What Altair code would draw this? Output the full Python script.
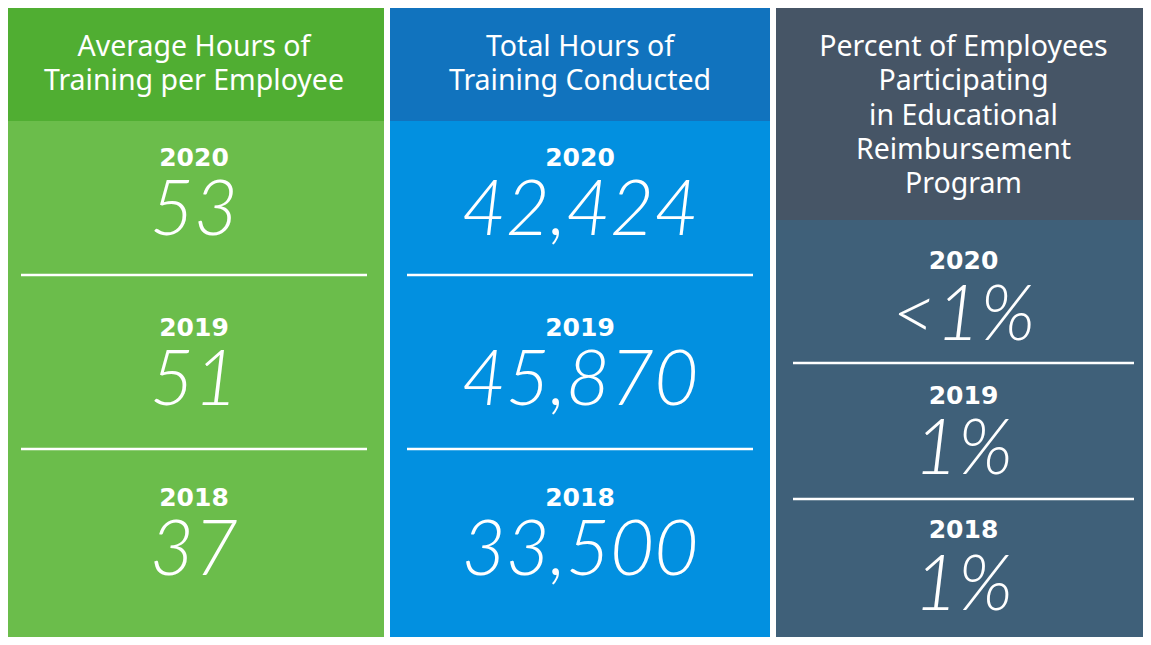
import altair as alt
import pandas as pd

# ---- content ----
titles = [
    "Average Hours of\nTraining per Employee",
    "Total Hours of\nTraining Conducted",
    "Percent of Employees\nParticipating\nin Educational\nReimbursement\nProgram",
]
years = ["2020", "2019", "2018"]
avg_hours = ["53", "51", "37"]
total_hours = ["42,424", "45,870", "33,500"]
pct_reimb = ["<1%", "1%", "1%"]

header_colors = ["#50AE32", "#1173BE", "#465566"]
body_colors = ["#6BBD4B", "#0290E0", "#3F6079"]

# ---- layout (reference image pixel coordinates) ----
W, H = 1151, 645
panel_x = [(4, 384), (390, 770), (776, 1151)]
header_bottom = [121, 121, 220]
header_first_line = 47
year_y = [[158, 328, 498], [158, 328, 498], [261, 396, 530]]
value_y = [[212, 382, 552], [212, 382, 552], [317, 451, 587]]
divider_y = [[275, 449], [275, 449], [363, 499]]
divider_pad = 17

values = [avg_hours, total_hours, pct_reimb]

rects, rules, heads, yrs, vals = [], [], [], [], []
for i in range(3):
    x0, x1 = panel_x[i]
    cx = (x0 + x1) / 2
    rects.append(dict(x=x0, x2=x1, y=8, y2=header_bottom[i], c=header_colors[i]))
    rects.append(dict(x=x0, x2=x1, y=header_bottom[i], y2=H, c=body_colors[i]))
    heads.append(dict(x=cx, y=header_first_line, t=titles[i]))
    for j in range(3):
        yrs.append(dict(x=cx, y=year_y[i][j], t=years[j]))
        vals.append(dict(x=cx, y=value_y[i][j], t=values[i][j]))
    for dy in divider_y[i]:
        rules.append(dict(x=x0 + divider_pad, x2=x1 - divider_pad, y=dy))

# page has an 8px margin on every side: chart pixel = image pixel - 8
CW, CH = W - 16, H - 16
xs = alt.Scale(domain=[8, 8 + CW], range=[0, CW], nice=False, zero=False)
ys = alt.Scale(domain=[8, 8 + CH], range=[0, CH], nice=False, zero=False)

def X(f="x"):
    return alt.X(f"{f}:Q", scale=xs, axis=None)

def Y(f="y"):
    return alt.Y(f"{f}:Q", scale=ys, axis=None)

rect_layer = alt.Chart(pd.DataFrame(rects)).mark_rect().encode(
    x=X(), x2="x2:Q", y=Y(), y2="y2:Q",
    color=alt.Color("c:N", scale=None),
)

rule_layer = alt.Chart(pd.DataFrame(rules)).mark_rule(
    color="white", strokeWidth=2.5
).encode(x=X(), x2="x2:Q", y=Y())

head_layer = alt.Chart(pd.DataFrame(heads)).mark_text(
    color="white", font="Noto Sans", fontSize=28.5, lineBreak="\n",
    lineHeight=34.3, baseline="middle", align="center",
).encode(x=X(), y=Y(), text="t:N")

year_layer = alt.Chart(pd.DataFrame(yrs)).mark_text(
    color="white", font="DejaVu Sans", fontSize=25, fontWeight="bold",
    baseline="middle", align="center",
).encode(x=X(), y=Y(), text="t:N")

val_layer = alt.Chart(pd.DataFrame(vals)).mark_text(
    color="white", font="Lato", fontSize=76, fontWeight=300,
    fontStyle="italic", baseline="middle", align="center",
).encode(x=X(), y=Y(), text="t:N")

chart = alt.layer(
    rect_layer, rule_layer, head_layer, year_layer, val_layer
).properties(
    width=CW, height=CH, padding=0, autosize="none",
    background="white",
).configure_view(stroke=None)

chart.save("out.html", embed_options={"renderer": "svg", "actions": False})
